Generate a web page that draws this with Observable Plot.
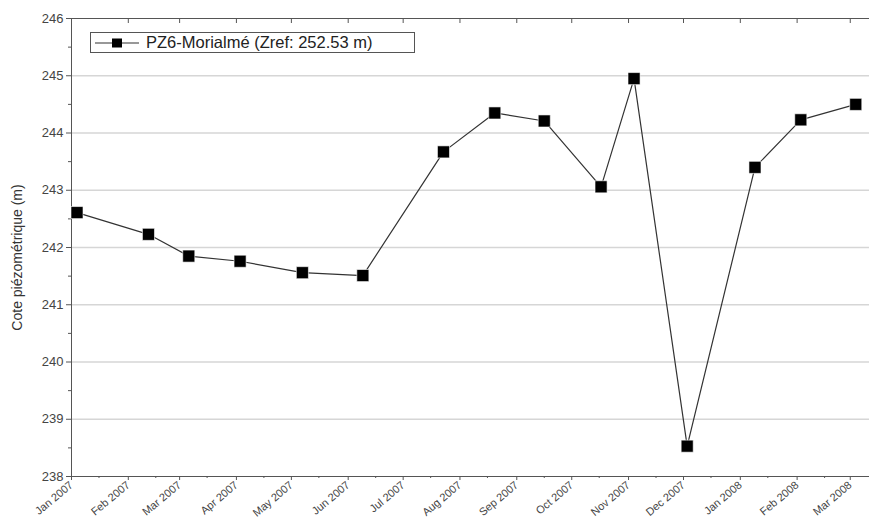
<!DOCTYPE html>
<html>
<head>
<meta charset="utf-8">
<script src="https://cdn.jsdelivr.net/npm/d3@7"></script>
<script src="https://cdn.jsdelivr.net/npm/@observablehq/plot@0.6"></script>
<style>
  html, body { margin: 0; padding: 0; background: #fff; }
  #wrap { position: relative; width: 869px; height: 527px; font-family: "Liberation Sans", Arial, sans-serif; }
  #legend { position: absolute; left: 90px; top: 32px; width: 323px; height: 19px; border: 1px solid #555; background: #fff;
            display: flex; align-items: center; font-size: 16.5px; color: #222; }
  #legend svg { margin-left: 4px; margin-right: 7px; }
</style>
</head>
<body>
<div id="wrap"><div id="legend"></div></div>
<script>
// ---- data ----
const seriesName = "PZ6-Morialmé (Zref: 252.53 m)";
const yLabel = "Cote piézométrique (m)";
const dates = ["2007-01-04","2007-02-12","2007-03-06","2007-04-03","2007-05-07","2007-06-09","2007-07-23",
               "2007-08-20","2007-09-16","2007-10-17","2007-11-04","2007-12-03","2008-01-09","2008-02-03","2008-03-04"];
const values = [242.61, 242.23, 241.85, 241.76, 241.56, 241.51, 243.67, 244.35, 244.21, 243.06, 244.95, 238.53, 243.40, 244.23, 244.50];
const yTicks = [238, 239, 240, 241, 242, 243, 244, 245, 246];
const yGrid = [239, 240, 241, 242, 243, 244, 245];
const yMinor = [238.5, 239.5, 240.5, 241.5, 242.5, 243.5, 244.5, 245.5];
const xStart = "2007-01-01", xEnd = "2008-03-11T12:00";

const data = dates.map((d, i) => ({date: new Date(d), value: values[i]}));
const months = d3.utcMonth.range(new Date("2007-01-01"), new Date("2008-03-02"));
const midMonths = months.map(m => d3.utcDay.offset(m, 15));

const ink = "#444";
const chart = Plot.plot({
  width: 869,
  height: 527,
  marginLeft: 71,
  marginRight: 0,
  marginTop: 18,
  marginBottom: 51,
  style: {fontFamily: "'Liberation Sans', Arial, sans-serif", background: "#fff", color: ink},
  x: {type: "utc", domain: [new Date(xStart), new Date(xEnd)]},
  y: {domain: [238, 246]},
  marks: [
    Plot.gridY(yGrid, {stroke: "#d6d6d6", strokeOpacity: 1, strokeWidth: 1.5}),
    Plot.frame({stroke: "#555"}),
    Plot.axisY({ticks: yTicks, tickSize: 5, tickPadding: 3, fontSize: 13, stroke: "#555", label: null}),
    Plot.axisY({ticks: yMinor, tickSize: 3, tickFormat: () => "", label: null, stroke: "#555"}),
    Plot.text([yLabel], {frameAnchor: "left", rotate: -90, dx: -54, dy: 10, fontSize: 14,
                         textAnchor: "middle", lineAnchor: "middle", fill: "#333"}),
    Plot.axisX({ticks: months, tickFormat: d3.utcFormat("%b %Y"), tickRotate: -40, tickSize: 4,
                tickPadding: 3, fontSize: 11, label: null, stroke: "#555"}),
    Plot.axisX({ticks: midMonths, tickSize: 2, tickFormat: () => "", label: null, stroke: "#555"}),
    Plot.axisX({anchor: "top", ticks: months, tickSize: -4, tickFormat: () => "", label: null, stroke: "#555"}),
    Plot.line(data, {x: "date", y: "value", stroke: "#333", strokeWidth: 1.2}),
    Plot.dot(data, {x: "date", y: "value", symbol: "square", r: 6.8, fill: "#000", stroke: "#fff", strokeWidth: 0.6})
  ]
});
document.getElementById("wrap").prepend(chart);

// legend
const leg = document.getElementById("legend");
leg.innerHTML = `<svg width="44" height="14"><line x1="0" y1="7" x2="44" y2="7" stroke="#333" stroke-width="1.2"/>` +
  `<rect x="17" y="2.5" width="10" height="9" fill="#000"/></svg><span></span>`;
leg.querySelector("span").textContent = seriesName;
</script>
</body>
</html>
